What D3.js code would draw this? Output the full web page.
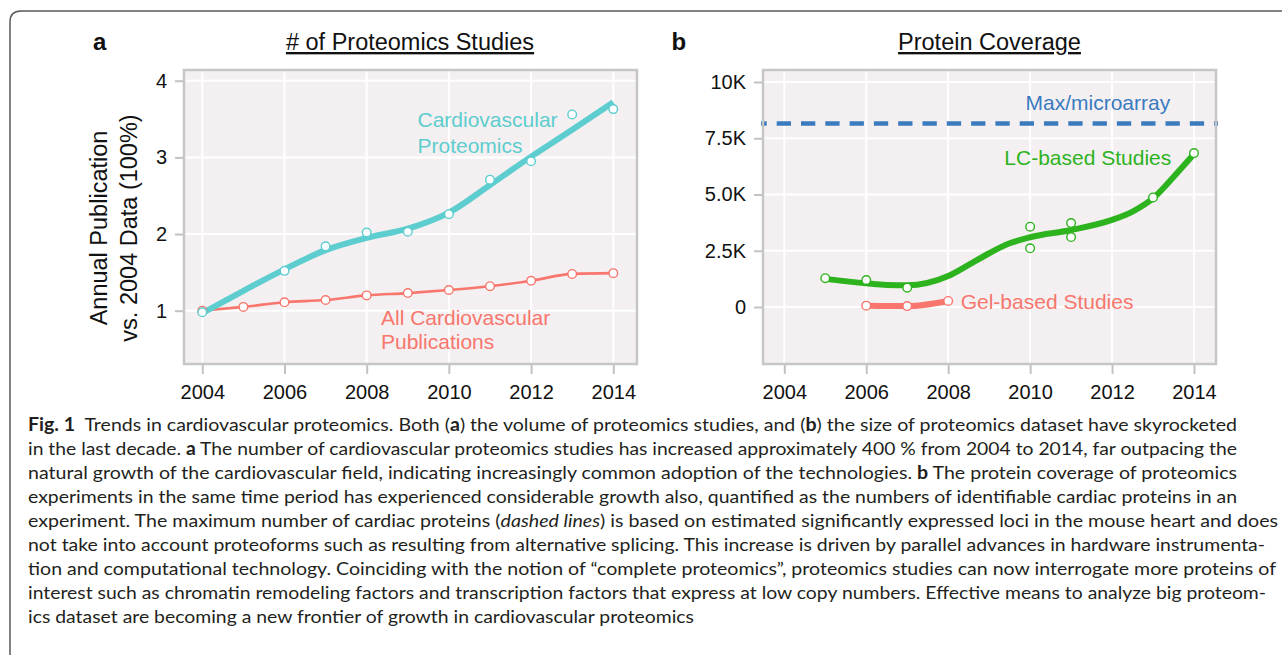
<!DOCTYPE html>
<html>
<head>
<meta charset="utf-8">
<script src="https://cdn.jsdelivr.net/npm/d3@7"></script>
<style>
  body { margin: 0; background: #fff; }
  svg { display: block; }
</style>
</head>
<body>
<svg width="1282" height="655"></svg>
<script>
// ---- data ----
var xTicks = [2004, 2006, 2008, 2010, 2012, 2014];

// panel a: publications relative to 2004
var protYears = [2004, 2006, 2007, 2008, 2009, 2010, 2011, 2012, 2013, 2014];
var protValues = [0.98, 1.52, 1.84, 2.02, 2.03, 2.26, 2.71, 2.95, 3.56, 3.63];
var protFitYears = [2004, 2005, 2006, 2007, 2008, 2009, 2010, 2011, 2012, 2013, 2014];
var protFitValues = [0.97, 1.26, 1.54, 1.79, 1.95, 2.07, 2.28, 2.64, 3.01, 3.36, 3.72];
var allYears = [2004, 2005, 2006, 2007, 2008, 2009, 2010, 2011, 2012, 2013, 2014];
var allValues = [1.00, 1.05, 1.11, 1.14, 1.20, 1.23, 1.27, 1.32, 1.39, 1.48, 1.49];
var aTicks = [1, 2, 3, 4];

// panel b: protein coverage
var lcYears = [2005, 2006, 2007, 2010, 2010, 2011, 2011, 2013, 2014];
var lcValues = [1280, 1200, 860, 3570, 2610, 3730, 3110, 4870, 6840];
var lcFitYears = [2005, 2006, 2006.5, 2007, 2008, 2008.5, 2009, 2009.5, 2010, 2011, 2012, 2012.5, 2013, 2013.5, 2014];
var lcFitValues = [1250, 1050, 980, 970, 1380, 1870, 2390, 2830, 3100, 3420, 3870, 4240, 4830, 5780, 6800];
var gelYears = [2006, 2007, 2008];
var gelValues = [60, 40, 270];
var maxMicroarray = 8150;
var bTicks = [0, 2500, 5000, 7500, 10000];
var bTickLabels = ["0", "2.5K", "5.0K", "7.5K", "10K"];

var teal = "#5dcdcf", salmon = "#f8766d", green = "#2db31e", blue = "#3a7bc0";
var FONT = "'Liberation Sans', Arial, sans-serif";

var svg = d3.select("svg");

// outer frame, rounded at the top-left
svg.append("path")
  .attr("d", "M10,700 L10,22 Q10,11 21,11 L1300,11")
  .attr("fill", "none").attr("stroke", "#5a5a5a").attr("stroke-width", 1.5);

function panel(x0, x1, xDomain, yDomain, yTicks, yFmt) {
  var top = 70, bottom = 364;
  var x = d3.scaleLinear().domain(xDomain).range([x0, x1]);
  var y = d3.scaleLinear().domain(yDomain).range([bottom, top]);
  var g = svg.append("g");
  g.append("rect").attr("x", x0).attr("y", top)
    .attr("width", x1 - x0).attr("height", bottom - top).attr("fill", "#f4f0f1");
  g.selectAll(".vg").data(xTicks).join("line")
    .attr("x1", d => x(d)).attr("x2", d => x(d)).attr("y1", top).attr("y2", bottom)
    .attr("stroke", "#fff").attr("stroke-width", 2);
  g.selectAll(".hg").data(yTicks).join("line")
    .attr("y1", d => y(d)).attr("y2", d => y(d)).attr("x1", x0).attr("x2", x1)
    .attr("stroke", "#fff").attr("stroke-width", 2);

  var ax = g.append("g").attr("transform", "translate(0," + bottom + ")")
    .call(d3.axisBottom(x).tickValues(xTicks).tickFormat(d3.format("d")).tickSize(10).tickPadding(11));
  var ay = g.append("g").attr("transform", "translate(" + x0 + ",0)")
    .call(d3.axisLeft(y).tickValues(yTicks).tickFormat(yFmt).tickSize(9).tickPadding(8));
  [ax, ay].forEach(function(a) {
    a.select(".domain").remove();
    a.selectAll("line").attr("stroke", "#c2c2c2").attr("stroke-width", 2);
    a.selectAll("text").attr("font-family", FONT).attr("font-size", 20).attr("fill", "#111");
  });
  return { x: x, y: y, g: g, x0: x0, x1: x1, top: top, bottom: bottom };
}

function border(p) {
  p.g.append("rect").attr("x", p.x0).attr("y", p.top)
    .attr("width", p.x1 - p.x0).attr("height", p.bottom - p.top)
    .attr("fill", "none").attr("stroke", "#c6c6c6").attr("stroke-width", 2.5);
}

function points(p, xs, ys, color) {
  p.g.append("g").selectAll("circle").data(xs).join("circle")
    .attr("cx", d => p.x(d)).attr("cy", (d, i) => p.y(ys[i])).attr("r", 4.3)
    .attr("fill", "#fff").attr("stroke", color).attr("stroke-width", 1.4);
}

function curve(p, xs, ys, color, w) {
  var line = d3.line().x(d => p.x(d)).y((d, i) => p.y(ys[i])).curve(d3.curveMonotoneX);
  p.g.append("path").attr("d", line(xs)).attr("fill", "none")
    .attr("stroke", color).attr("stroke-width", w).attr("stroke-linecap", "butt");
}

function label(x, y, lines, color, size, lh) {
  var t = svg.append("text").attr("x", x).attr("y", y).attr("fill", color)
    .attr("font-family", FONT).attr("font-size", size);
  lines.forEach(function(s, i) {
    t.append("tspan").attr("x", x).attr("dy", i ? lh : 0).text(s);
  });
  return t;
}

// ---- panel a ----
var pa = panel(184, 637, [2003.555, 2014.577], [0.305, 4.14], aTicks, d3.format("d"));
curve(pa, allYears, allValues, salmon, 2.6);
curve(pa, protFitYears, protFitValues, teal, 6);
points(pa, allYears, allValues, salmon);
points(pa, protYears, protValues, teal);
border(pa);
label(417.5, 127, ["Cardiovascular", "Proteomics"], teal, 21, 26);
label(381, 325, ["All Cardiovascular", "Publications"], salmon, 21, 24);

// ---- panel b ----
var bFmt = function(d) { return bTickLabels[bTicks.indexOf(d)]; };
var pb = panel(763, 1216, [2003.48, 2014.537], [-2533, 10533], bTicks, bFmt);
pb.g.append("line")
  .attr("x1", pb.x0 - 2).attr("x2", pb.x1 + 2)
  .attr("y1", pb.y(maxMicroarray)).attr("y2", pb.y(maxMicroarray))
  .attr("stroke", blue).attr("stroke-width", 4.5)
  .attr("stroke-dasharray", "14.3,10").attr("stroke-dashoffset", 8.6);
curve(pb, gelYears, gelValues, salmon, 6);
curve(pb, lcFitYears, lcFitValues, green, 6);
points(pb, gelYears, gelValues, salmon);
points(pb, lcYears, lcValues, green);
border(pb);
label(1025.5, 109.5, ["Max/microarray"], blue, 21, 0);
label(1004.3, 165.3, ["LC-based Studies"], green, 21, 0);
label(960.7, 308.5, ["Gel-based Studies"], salmon, 21, 0);

// ---- titles ----
function title(cx, s) {
  var t = svg.append("text").attr("x", cx).attr("y", 50).attr("text-anchor", "middle")
    .attr("font-family", FONT).attr("font-size", 23.5).attr("fill", "#111")
    .attr("text-decoration", "underline").text(s);
  return t;
}
title(410, "# of Proteomics Studies");
title(989.5, "Protein Coverage");
svg.append("text").attr("x", 93).attr("y", 50).attr("font-family", FONT)
  .attr("font-weight", "bold").attr("font-size", 24).attr("fill", "#111").text("a");
svg.append("text").attr("x", 671.5).attr("y", 50).attr("font-family", FONT)
  .attr("font-weight", "bold").attr("font-size", 24).attr("fill", "#111").text("b");

// y label of panel a
[["Annual Publication", 107], ["vs. 2004 Data (100%)", 137]].forEach(function(d) {
  svg.append("text").attr("transform", "translate(" + d[1] + ",228) rotate(-90)")
    .attr("text-anchor", "middle").attr("font-family", FONT).attr("font-size", 23.5)
    .attr("fill", "#111").text(d[0]);
});

// ---- caption ----
var captionLines = [
  [[["Fig. 1", "b"], ["  Trends in cardiovascular proteomics. Both ("], ["a", "b"], [") the volume of proteomics studies, and ("], ["b", "b"], [") the size of proteomics dataset have skyrocketed"]], 1237],
  [[["in the last decade. "], ["a", "b"], [" The number of cardiovascular proteomics studies has increased approximately 400 % from 2004 to 2014, far outpacing the"]], 1237],
  [[["natural growth of the cardiovascular field, indicating increasingly common adoption of the technologies. "], ["b", "b"], [" The protein coverage of proteomics"]], 1237],
  [[["experiments in the same time period has experienced considerable growth also, quantified as the numbers of identifiable cardiac proteins in an"]], 1237],
  [[["experiment. The maximum number of cardiac proteins ("], ["dashed lines", "i"], [") is based on estimated significantly expressed loci in the mouse heart and does"]], 1278],
  [[["not take into account proteoforms such as resulting from alternative splicing. This increase is driven by parallel advances in hardware instrumenta-"]], 1265],
  [[["tion and computational technology. Coinciding with the notion of \u201ccomplete proteomics\u201d, proteomics studies can now interrogate more proteins of"]], 1276],
  [[["interest such as chromatin remodeling factors and transcription factors that express at low copy numbers. Effective means to analyze big proteom-"]], 1266],
  [[["ics dataset are becoming a new frontier of growth in cardiovascular proteomics"]], 694]
];
captionLines.forEach(function(line, i) {
  var t = svg.append("text").attr("x", 28).attr("y", 431 + i * 24)
    .attr("font-family", "Lato, 'Open Sans', sans-serif").attr("font-size", 18)
    .attr("fill", "#231f20")
    .attr("textLength", line[1] - 28).attr("lengthAdjust", "spacingAndGlyphs")
    .attr("xml:space", "preserve");
  line[0].forEach(function(seg) {
    var s = t.append("tspan").text(seg[0]);
    if (seg[1] === "b") s.attr("font-weight", "bold");
    if (seg[1] === "i") s.attr("font-style", "italic");
  });
});
</script>
</body>
</html>
